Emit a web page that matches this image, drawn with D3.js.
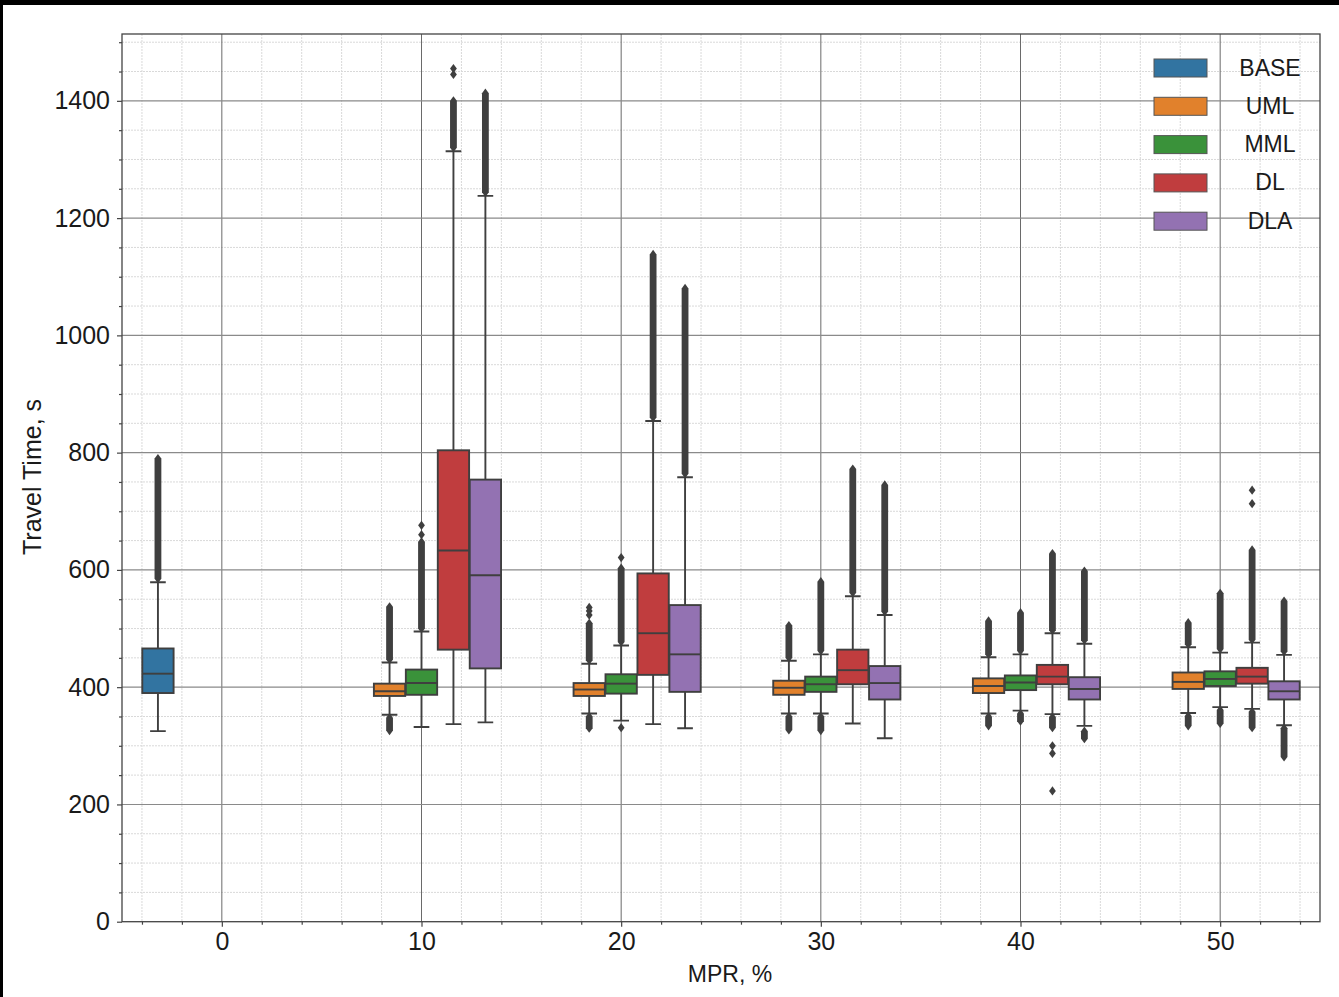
<!DOCTYPE html>
<html>
<head>
<meta charset="utf-8">
<script src="https://cdn.jsdelivr.net/npm/d3@7"></script>
<style>
  html, body { margin: 0; padding: 0; background: #000; }
  svg { display: block; }
  text { font-family: "Liberation Sans", Arial, sans-serif; fill: #1a1a1a; }
</style>
</head>
<body>
<svg id="chart" width="1339" height="997"></svg>
<script>
// ---- data ---------------------------------------------------------------
const mprLevels = [0, 10, 20, 30, 40, 50];
const methods = ["BASE", "UML", "MML", "DL", "DLA"];
const yMajorTicks = [0, 200, 400, 600, 800, 1000, 1200, 1400];

// box statistics per method: whisker low, Q1, median, Q3, whisker high (s)
const baseStats = [
  { mpr: 0, lo: 325, q1: 390, med: 423, q3: 466, hi: 579 }
];
const umlStats = [
  { mpr: 10, lo: 353, q1: 385, med: 393, q3: 406, hi: 442 },
  { mpr: 20, lo: 355, q1: 385, med: 396, q3: 407, hi: 440 },
  { mpr: 30, lo: 355, q1: 387, med: 399, q3: 411, hi: 445 },
  { mpr: 40, lo: 355, q1: 390, med: 402, q3: 415, hi: 451 },
  { mpr: 50, lo: 356, q1: 397, med: 409, q3: 425, hi: 468 }
];
const mmlStats = [
  { mpr: 10, lo: 332, q1: 387, med: 407, q3: 430, hi: 495 },
  { mpr: 20, lo: 343, q1: 389, med: 406, q3: 422, hi: 471 },
  { mpr: 30, lo: 355, q1: 392, med: 405, q3: 418, hi: 456 },
  { mpr: 40, lo: 360, q1: 395, med: 408, q3: 420, hi: 456 },
  { mpr: 50, lo: 366, q1: 402, med: 414, q3: 427, hi: 459 }
];
const dlStats = [
  { mpr: 10, lo: 337, q1: 464, med: 633, q3: 804, hi: 1314 },
  { mpr: 20, lo: 337, q1: 421, med: 492, q3: 594, hi: 854 },
  { mpr: 30, lo: 338, q1: 405, med: 429, q3: 464, hi: 555 },
  { mpr: 40, lo: 354, q1: 405, med: 418, q3: 438, hi: 492 },
  { mpr: 50, lo: 363, q1: 406, med: 418, q3: 433, hi: 476 }
];
const dlaStats = [
  { mpr: 10, lo: 340, q1: 432, med: 591, q3: 754, hi: 1238 },
  { mpr: 20, lo: 330, q1: 392, med: 456, q3: 540, hi: 758 },
  { mpr: 30, lo: 313, q1: 379, med: 407, q3: 436, hi: 523 },
  { mpr: 40, lo: 334, q1: 379, med: 397, q3: 417, hi: 474 },
  { mpr: 50, lo: 335, q1: 379, med: 393, q3: 410, hi: 455 }
];

// outliers: dense runs [from, to] and single isolated values (s)
const baseFliers = [
  { mpr: 0, runs: [[585, 790]], points: [] }
];
const umlFliers = [
  { mpr: 10, runs: [[447, 537], [326, 348]], points: [] },
  { mpr: 20, runs: [[446, 509], [330, 350]], points: [523, 530, 536] },
  { mpr: 30, runs: [[450, 505], [327, 350]], points: [] },
  { mpr: 40, runs: [[456, 513], [334, 350]], points: [] },
  { mpr: 50, runs: [[473, 510], [334, 351]], points: [] }
];
const mmlFliers = [
  { mpr: 10, runs: [[500, 648]], points: [660, 676] },
  { mpr: 20, runs: [[477, 603]], points: [621, 331] },
  { mpr: 30, runs: [[462, 580], [326, 350]], points: [] },
  { mpr: 40, runs: [[462, 527], [342, 355]], points: [] },
  { mpr: 50, runs: [[465, 560], [338, 361]], points: [] }
];
const dlFliers = [
  { mpr: 10, runs: [[1320, 1400]], points: [1445, 1455] },
  { mpr: 20, runs: [[860, 1138]], points: [] },
  { mpr: 30, runs: [[561, 772]], points: [] },
  { mpr: 40, runs: [[497, 628], [331, 349]], points: [300, 287, 223] },
  { mpr: 50, runs: [[481, 634], [331, 358]], points: [713, 736] }
];
const dlaFliers = [
  { mpr: 10, runs: [[1244, 1413]], points: [] },
  { mpr: 20, runs: [[764, 1080]], points: [] },
  { mpr: 30, runs: [[529, 745]], points: [] },
  { mpr: 40, runs: [[480, 598], [312, 325]], points: [] },
  { mpr: 50, runs: [[461, 547], [281, 330]], points: [] }
];

const statsByMethod = [baseStats, umlStats, mmlStats, dlStats, dlaStats];
const fliersByMethod = [baseFliers, umlFliers, mmlFliers, dlFliers, dlaFliers];
const palette = ["#3274a1", "#e1812c", "#3a923a", "#c03d3e", "#9372b2"];

// ---- layout -------------------------------------------------------------
const svg = d3.select("#chart");
const plot = { left: 122, right: 1320, top: 34, bottom: 921.7 };
const ink = "#3f3f3f";

// white page with the thin dark frame on the top and left
svg.append("rect").attr("x", 3).attr("y", 5).attr("width", 1339).attr("height", 997).attr("fill", "#fff");

const x = d3.scaleLinear().domain([-5, 55]).range([plot.left, plot.right]);
const y = d3.scaleLinear().domain([0, 1514]).range([plot.bottom, plot.top]);

const hueSlot = 1.6;                       // x-units per method within a group
const boxW = x(hueSlot * 0.98) - x(0);
const xPos = (mpr, i) => x(mpr + (i - 2) * hueSlot);

// ---- grid ---------------------------------------------------------------
const xMinor = d3.range(-4, 55, 2).filter(v => v % 10 !== 0);
const yMinor = d3.range(50, 1514, 50).filter(v => v % 200 !== 0);
const grid = svg.append("g");
grid.selectAll(".xm").data(xMinor).join("line")
  .attr("x1", d => x(d)).attr("x2", d => x(d))
  .attr("y1", plot.top).attr("y2", plot.bottom)
  .attr("stroke", "#d9d9d9").attr("stroke-width", 1).attr("stroke-dasharray", "2,1");
grid.selectAll(".ym").data(yMinor).join("line")
  .attr("x1", plot.left).attr("x2", plot.right)
  .attr("y1", d => y(d)).attr("y2", d => y(d))
  .attr("stroke", "#d9d9d9").attr("stroke-width", 1).attr("stroke-dasharray", "2,1");
grid.selectAll(".xM").data(mprLevels).join("line")
  .attr("x1", d => x(d)).attr("x2", d => x(d))
  .attr("y1", plot.top).attr("y2", plot.bottom)
  .attr("stroke", "#6a6a6a").attr("stroke-width", 1);
grid.selectAll(".yM").data(yMajorTicks.filter(v => v > 0)).join("line")
  .attr("x1", plot.left).attr("x2", plot.right)
  .attr("y1", d => y(d)).attr("y2", d => y(d))
  .attr("stroke", "#8a8a8a").attr("stroke-width", 1.1);

// ---- boxes --------------------------------------------------------------
const diamond = (cx, cy) => `M${cx},${cy - 4.6}L${cx + 3.4},${cy}L${cx},${cy + 4.6}L${cx - 3.4},${cy}Z`;
const column = (cx, y0, y1) => {
  const top = Math.min(y0, y1), bot = Math.max(y0, y1), w = 3.4;
  return `M${cx},${top - 4.6}L${cx + w},${top}L${cx + w},${bot}L${cx},${bot + 4.6}L${cx - w},${bot}L${cx - w},${top}Z`;
};

methods.forEach((m, i) => {
  const g = svg.append("g").attr("class", "series-" + m);
  const stats = statsByMethod[i];

  // whiskers
  g.selectAll(".wh").data(stats).join("path")
    .attr("d", d => {
      const cx = xPos(d.mpr, i), cw = boxW / 4;
      return `M${cx},${y(d.q3)}V${y(d.hi)}M${cx - cw},${y(d.hi)}H${cx + cw}` +
             `M${cx},${y(d.q1)}V${y(d.lo)}M${cx - cw},${y(d.lo)}H${cx + cw}`;
    })
    .attr("fill", "none").attr("stroke", ink).attr("stroke-width", 1.9);

  // boxes
  g.selectAll(".bx").data(stats).join("rect")
    .attr("x", d => xPos(d.mpr, i) - boxW / 2)
    .attr("width", boxW)
    .attr("y", d => y(d.q3))
    .attr("height", d => y(d.q1) - y(d.q3))
    .attr("fill", palette[i]).attr("stroke", ink).attr("stroke-width", 1.9);

  // medians
  g.selectAll(".md").data(stats).join("line")
    .attr("x1", d => xPos(d.mpr, i) - boxW / 2).attr("x2", d => xPos(d.mpr, i) + boxW / 2)
    .attr("y1", d => y(d.med)).attr("y2", d => y(d.med))
    .attr("stroke", ink).attr("stroke-width", 1.9);

  // outliers
  fliersByMethod[i].forEach(f => {
    const cx = xPos(f.mpr, i);
    g.selectAll(null).data(f.runs).join("path")
      .attr("d", r => column(cx, y(r[0]), y(r[1]))).attr("fill", ink);
    g.selectAll(null).data(f.points).join("path")
      .attr("d", p => diamond(cx, y(p))).attr("fill", ink);
  });
});

// ---- axes ---------------------------------------------------------------
const spine = svg.append("g").attr("stroke", "#444").attr("stroke-width", 1.3).attr("fill", "none");
spine.append("rect").attr("x", plot.left).attr("y", plot.top)
  .attr("width", plot.right - plot.left).attr("height", plot.bottom - plot.top);

const yAxis = d3.axisLeft(y).tickValues(yMajorTicks).tickFormat(d3.format("d")).tickSize(5).tickPadding(7);
const yAxisMinor = d3.axisLeft(y).tickValues(yMinor).tickSize(3).tickFormat("");
const xAxis = d3.axisBottom(x).tickValues(mprLevels).tickFormat(d3.format("d")).tickSize(5).tickPadding(6);
const xAxisMinor = d3.axisBottom(x).tickValues(xMinor).tickSize(3).tickFormat("");

function styleAxis(sel) {
  sel.select(".domain").remove();
  sel.selectAll(".tick line").attr("stroke", "#444").attr("stroke-width", 1.2);
  sel.selectAll(".tick text").attr("font-size", 25).attr("fill", "#1a1a1a")
    .attr("font-family", '"Liberation Sans", Arial, sans-serif');
}
svg.append("g").attr("transform", `translate(${plot.left},0)`).call(yAxisMinor).call(styleAxis);
svg.append("g").attr("transform", `translate(${plot.left},0)`).call(yAxis).call(styleAxis);
svg.append("g").attr("transform", `translate(0,${plot.bottom})`).call(xAxisMinor).call(styleAxis);
svg.append("g").attr("transform", `translate(0,${plot.bottom})`).call(xAxis).call(styleAxis);

svg.append("text").attr("x", 730).attr("y", 982)
  .attr("text-anchor", "middle").attr("font-size", 23).text("MPR, %");
svg.append("text").attr("transform", "translate(41,477) rotate(-90)")
  .attr("text-anchor", "middle").attr("font-size", 25).text("Travel Time, s");

// ---- legend -------------------------------------------------------------
const legend = svg.append("g");
const rowY = i => 68 + i * 38.3;
legend.selectAll("rect").data(methods).join("rect")
  .attr("x", 1154).attr("width", 53)
  .attr("y", (d, i) => rowY(i) - 9).attr("height", 18)
  .attr("fill", (d, i) => palette[i]).attr("stroke", "#555").attr("stroke-width", 1);
legend.selectAll("text").data(methods).join("text")
  .attr("x", 1270).attr("y", (d, i) => rowY(i) + 7.5)
  .attr("text-anchor", "middle").attr("font-size", 23).text(d => d);
</script>
</body>
</html>
